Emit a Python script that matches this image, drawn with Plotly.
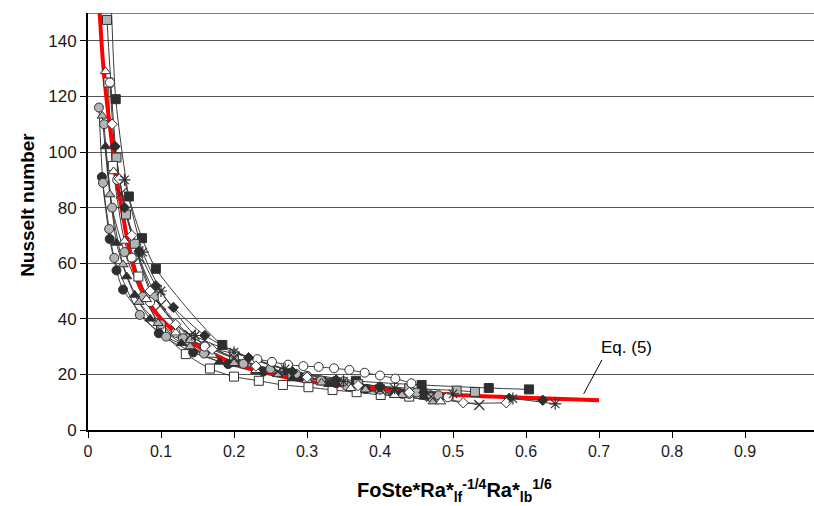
import plotly.graph_objects as go

# Correlation curve, Eq. (5)
eq5_x = [0.014, 0.016, 0.02, 0.025, 0.03, 0.035, 0.04, 0.046, 0.052, 0.058, 0.064, 0.07,
         0.085, 0.1, 0.12, 0.144, 0.17, 0.204, 0.25, 0.3, 0.35, 0.4, 0.5, 0.6, 0.7]
eq5_nu = [158, 150, 134, 120, 109, 99, 89, 80, 71, 63, 57, 52.5,
          45, 40, 35.2, 31, 27.3, 23.5, 20.2, 17.5, 16, 14.8, 12.7, 11.6, 10.7]

# Experimental runs
sq_dark_x = [0.031, 0.038, 0.056, 0.074, 0.093, 0.184, 0.274, 0.367, 0.457, 0.549, 0.604]
sq_dark_nu = [160, 119, 84, 69, 58, 30.6, 21.6, 17.7, 16.2, 15.1, 14.6]

sq_gray_x = [0.026, 0.039, 0.052, 0.064, 0.09, 0.14, 0.2, 0.28, 0.37, 0.44, 0.505, 0.53]
sq_gray_nu = [147.5, 98, 77.5, 67, 48, 33, 24.5, 19.5, 16.5, 15, 14.2, 13.7]

sq_open_x = [0.028, 0.034, 0.069, 0.10, 0.134, 0.167, 0.2, 0.234, 0.267, 0.302, 0.335, 0.368, 0.401, 0.44]
sq_open_nu = [125, 95, 55.2, 36, 27.3, 22.1, 19.2, 17.7, 16.2, 15.4, 14.4, 13.6, 12.6, 12]

ci_dark_x = [0.019, 0.0297, 0.039, 0.048, 0.097, 0.144, 0.192, 0.24, 0.29, 0.34, 0.38, 0.43, 0.47]
ci_dark_nu = [91, 68.7, 57.4, 50.5, 34.8, 27.9, 23.7, 21, 19, 16.8, 14.8, 13, 12]

ci_gray_x = [0.015, 0.0205, 0.029, 0.036, 0.071, 0.107, 0.159, 0.213, 0.249, 0.285, 0.319, 0.354, 0.40, 0.44, 0.47]
ci_gray_nu = [116, 88.9, 72.3, 61.9, 41.4, 33.6, 27.5, 23.8, 21.9, 20.2, 17.8, 15.9, 14.5, 13, 11.8]

ci_gray2_x = [0.022, 0.033, 0.05, 0.075, 0.1, 0.13, 0.16, 0.2, 0.25, 0.3, 0.35, 0.4, 0.45, 0.48]
ci_gray2_nu = [110, 80, 64, 48, 38, 33, 30.4, 26, 22, 19.5, 17.5, 15.5, 13.5, 12.5]

ci_open_x = [0.03, 0.04, 0.06, 0.085, 0.12, 0.16, 0.2, 0.232, 0.252, 0.274, 0.295, 0.316,
             0.337, 0.358, 0.379, 0.40, 0.421, 0.443, 0.493]
ci_open_nu = [125, 90, 62, 46, 35, 30, 27.5, 25.5, 24.5, 23.5, 23, 22.7,
              22.2, 21.6, 20.6, 19.6, 18.5, 16.8, 11.8]

tr_dark_x = [0.024, 0.039, 0.053, 0.064, 0.085, 0.128, 0.18, 0.23, 0.28, 0.33, 0.38, 0.42, 0.46]
tr_dark_nu = [102, 67.3, 55.2, 48.6, 40, 31.2, 24.5, 21, 18.5, 16.5, 14.5, 13, 12]

tr_gray_x = [0.0196, 0.03, 0.048, 0.07, 0.096, 0.14, 0.2, 0.26, 0.32, 0.38, 0.43, 0.473]
tr_gray_nu = [113, 84.7, 59.5, 46, 38.4, 30, 24, 20, 17, 14.5, 12.5, 10.2]

tr_open_x = [0.024, 0.035, 0.05, 0.08, 0.12, 0.17, 0.23, 0.3, 0.36, 0.42, 0.483]
tr_open_nu = [129, 93, 68, 47, 35, 27, 21.5, 18, 15, 12.5, 10.2]

di_dark_x = [0.037, 0.05, 0.07, 0.093, 0.117, 0.16, 0.22, 0.28, 0.34, 0.4, 0.46, 0.577, 0.623]
di_dark_nu = [102, 80, 64.3, 51.9, 44.1, 34, 26, 21, 18, 15.5, 13.5, 11.4, 10.7]

di_open_x = [0.033, 0.043, 0.06, 0.085, 0.12, 0.17, 0.23, 0.3, 0.37, 0.44, 0.514, 0.573]
di_open_nu = [110, 90.3, 70, 50, 38, 29, 23, 19, 16, 13.5, 9.8, 9.8]

cross_x = [0.045, 0.07, 0.1, 0.14, 0.2, 0.26, 0.33, 0.4, 0.47, 0.536]
cross_nu = [85, 62, 45, 34, 26, 21, 17.5, 14.5, 12, 9]

star_x = [0.05, 0.075, 0.1, 0.147, 0.2, 0.27, 0.35, 0.42, 0.5, 0.582, 0.64]
star_nu = [90, 64, 50, 34, 28, 22, 17.5, 15, 13, 11.3, 9.4]

x_ticks = [0, 0.1, 0.2, 0.3, 0.4, 0.5, 0.6, 0.7, 0.8, 0.9]
y_ticks = [0, 20, 40, 60, 80, 100, 120, 140]

DARK = "#2e2e2e"
GRAY = "#b4b4b4"
OPEN = "#ffffff"
EDGE = "#303030"
LINE = "#3c3c3c"

runs = [
    (sq_dark_x, sq_dark_nu, "square", DARK),
    (sq_gray_x, sq_gray_nu, "square", GRAY),
    (sq_open_x, sq_open_nu, "square", OPEN),
    (ci_dark_x, ci_dark_nu, "circle", DARK),
    (ci_gray_x, ci_gray_nu, "circle", GRAY),
    (ci_gray2_x, ci_gray2_nu, "circle", GRAY),
    (ci_open_x, ci_open_nu, "circle", OPEN),
    (tr_dark_x, tr_dark_nu, "triangle-up", DARK),
    (tr_gray_x, tr_gray_nu, "triangle-up", GRAY),
    (tr_open_x, tr_open_nu, "triangle-up", OPEN),
    (di_dark_x, di_dark_nu, "diamond", DARK),
    (di_open_x, di_open_nu, "diamond", OPEN),
    (cross_x, cross_nu, "x-thin-open", None),
    (star_x, star_nu, "asterisk-open", None),
]

fig = go.Figure()

# connecting lines of each run
for xs, ys, sym, fill in runs:
    fig.add_trace(go.Scatter(x=xs, y=ys, mode="lines", showlegend=False,
                             line=dict(color=LINE, width=1, shape="spline", smoothing=0.6),
                             hoverinfo="skip"))

# Eq. (5)
fig.add_trace(go.Scatter(x=eq5_x, y=eq5_nu, mode="lines", showlegend=False,
                         line=dict(color="#ff0000", width=4, shape="spline", smoothing=0.8)))

# markers on top
for xs, ys, sym, fill in runs:
    if fill is None:
        marker = dict(symbol=sym, size=10, color=EDGE, line=dict(color=EDGE, width=1.2))
    else:
        marker = dict(symbol=sym, size=8 if sym == "diamond" else 9, color=fill,
                      line=dict(color=EDGE, width=1))
    fig.add_trace(go.Scatter(x=xs, y=ys, mode="markers", showlegend=False, marker=marker))

FONT = "Liberation Sans, Arial, Helvetica, sans-serif"

fig.update_layout(
    width=814, height=506,
    margin=dict(l=88, r=0, t=13, b=76),
    paper_bgcolor="white", plot_bgcolor="white",
    font=dict(family=FONT, size=16, color="#1a1a1a"),
    xaxis=dict(range=[0, 0.9945], tickvals=x_ticks, ticktext=[f"{v:g}" for v in x_ticks],
               showgrid=False, zeroline=False, showline=True, linecolor="black", linewidth=2,
               ticks="outside", ticklen=6, tickcolor="black", tickwidth=1,
               tickfont=dict(size=16)),
    yaxis=dict(range=[0, 150], tickvals=y_ticks, showgrid=True, gridcolor="#555555", gridwidth=1,
               zeroline=False, showline=True, linecolor="black", linewidth=2,
               ticks="outside", ticklen=6, tickcolor="black", tickwidth=1,
               tickfont=dict(size=17)),
    shapes=[
        dict(type="line", xref="paper", yref="y", x0=0, x1=1, y0=150, y1=150,
             line=dict(color="#555555", width=1.5), layer="below"),
        dict(type="line", xref="x", yref="y", x0=0.679, y0=13.0, x1=0.704, y1=25.2,
             line=dict(color="black", width=1)),
    ],
    annotations=[
        dict(text="<b>Nusselt number</b>", xref="paper", yref="paper",
             x=-0.0826, y=0.54, textangle=-90, showarrow=False,
             xanchor="center", yanchor="middle",
             font=dict(size=19, family=FONT, color="black")),
        dict(text="<b>FoSte*Ra*<sub>lf</sub><sup>-1/4</sup>Ra*<sub>lb</sub><sup>1/6</sup></b>",
             xref="paper", yref="paper", x=0.5055, y=-0.145, showarrow=False,
             xanchor="center", yanchor="middle",
             font=dict(size=20, family=FONT, color="black")),
        dict(text="Eq. (5)", xref="x", yref="y", x=0.737, y=29.5, showarrow=False,
             xanchor="center", yanchor="middle",
             font=dict(size=17, family=FONT, color="black")),
    ],
)

fig.write_html("out.html")
